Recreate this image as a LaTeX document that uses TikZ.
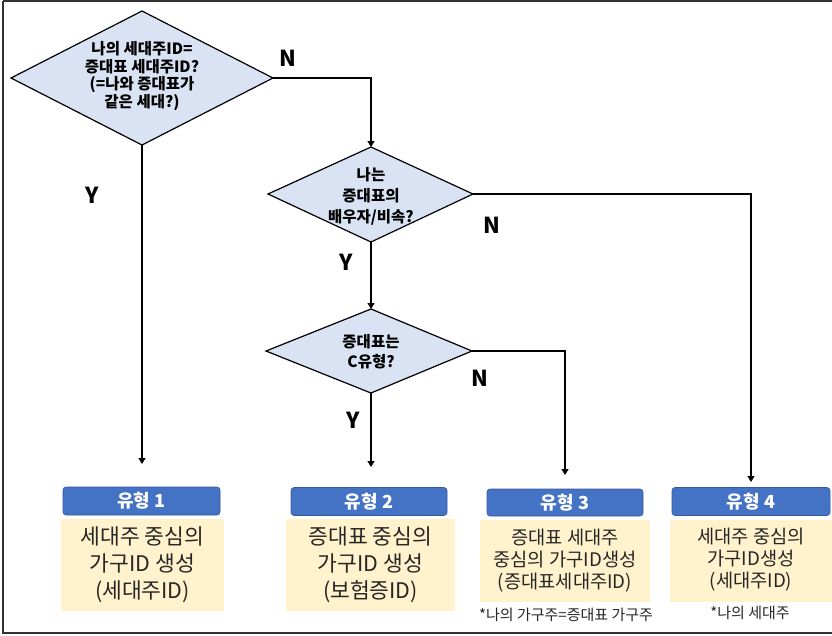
\documentclass[tikz,border=0pt]{standalone}
\usepackage{fontspec}
\setmainfont{Noto Sans CJK KR}
\usetikzlibrary{shapes.geometric,arrows.meta}
\definecolor{dfill}{HTML}{DAE3F3}
\definecolor{hblue}{HTML}{4472C4}
\definecolor{yfill}{HTML}{FFF2CC}
\definecolor{frame}{HTML}{333333}
\tikzset{
  dia/.style={draw=black, fill=dfill, line width=1.2pt},
  dtext/.style={align=center, font=\fontsize{15.5}{17.5}\selectfont\bfseries, inner sep=0pt},
  yn/.style={font=\fontsize{22}{22}\selectfont\bfseries, inner sep=0pt},
  arr/.style={draw=black, line width=1.2pt, -{Triangle[width=7pt,length=6pt]}},
  hdr/.style={fill=hblue, draw=hblue!80!black, line width=0.6pt, rounded corners=3pt, text=white, font=\fontsize{18}{20}\selectfont\bfseries, inner sep=0pt},
  ybox/.style={fill=yfill, draw=none, inner sep=0pt, align=center, text=black!85},
  note/.style={font=\fontsize{15}{16}\selectfont, inner sep=0pt, text=black!85}
}
\begin{document}
\begin{tikzpicture}[x=1pt,y=-1pt]
\useasboundingbox (0,0) rectangle (832,635);
\fill[white] (0,0) rectangle (832,635);
\draw[frame, line width=1.5pt] (3,1) -- (845,1) (3,1) -- (3,633) -- (845,633);

% diamonds
\path[dia] (11,78) -- (142,11) -- (273,78) -- (142,145) -- cycle;
\coordinate (d1s) at (142,145);
\coordinate (d1e) at (273,78);
\node[dtext] (d1) at (142,76) {나의 세대주ID=\\증대표 세대주ID?\\(=나와 증대표가\\같은 세대?)};

\path[dia] (268,194) -- (371,147) -- (473,194) -- (371,242) -- cycle;
\coordinate (d2n) at (371,147);
\coordinate (d2s) at (371,242);
\coordinate (d2e) at (473,194);
\node[dtext, font=\fontsize{15.5}{21}\selectfont\bfseries] (d2) at (371,196) {나는\\증대표의\\배우자/비속?};

\path[dia] (266,351) -- (371,309) -- (472,351) -- (371,393) -- cycle;
\coordinate (d3n) at (371,309);
\coordinate (d3s) at (371,393);
\coordinate (d3e) at (472,351);
\node[dtext, font=\fontsize{15.5}{20}\selectfont\bfseries] (d3) at (371,352) {증대표는\\C유형?};

% arrow ends
\coordinate (e1) at (142,464);
\coordinate (e2) at (371,467);
\coordinate (e3) at (565,475);
\coordinate (e4) at (751,482);

\draw[arr] (d1e) -| (d2n);
\draw[arr] (d1s) -- (e1);
\draw[arr] (d2s) -- (d3n);
\draw[arr] (d2e) -| (e4);
\draw[arr] (d3s) -- (e2);
\draw[arr] (d3e) -| (e3);

% labels
\node[yn] (n1) at (288,58) {N};
\node[yn] (y1) at (92,195) {Y};
\node[yn] (n2) at (492,225) {N};
\node[yn] (y2) at (346,262) {Y};
\node[yn] (n3) at (480,378) {N};
\node[yn] (y3) at (353,420) {Y};

% headers
\node[hdr, minimum width=157pt, minimum height=28pt] (h1) at (141.5,501) {유형 1};
\node[hdr, minimum width=156pt, minimum height=28pt] (h2) at (369,501.5) {유형 2};
\node[hdr, minimum width=156pt, minimum height=27pt] (h3) at (565,502.5) {유형 3};
\node[hdr, minimum width=158pt, minimum height=28pt] (h4) at (751,501.5) {유형 4};

% boxes
\node[ybox, minimum width=163pt, minimum height=92pt, font=\fontsize{21.5}{27}\selectfont] (b1) at (142.5,565) {세대주 중심의\\가구ID 생성\\(세대주ID)};
\node[ybox, minimum width=169pt, minimum height=92pt, font=\fontsize{21.5}{27}\selectfont] (b2) at (370.5,565) {증대표 중심의\\가구ID 생성\\(보험증ID)};
\node[ybox, minimum width=170pt, minimum height=82pt, font=\fontsize{18.7}{22}\selectfont] (b3) at (565,561) {증대표 세대주\\중심의 가구ID생성\\(증대표세대주ID)};
\node[ybox, minimum width=170pt, minimum height=82pt] (b4) at (755,561) {};
\node[inner sep=0pt, align=center, text=black!85, font=\fontsize{18.7}{22}\selectfont] (b4t) at (751,560) {세대주 중심의\\가구ID생성\\(세대주ID)};

\node[note] (m3) at (566,615) {*나의 가구주=증대표 가구주};
\node[note] (m4) at (750,613) {*나의 세대주};
\end{tikzpicture}
\end{document}
